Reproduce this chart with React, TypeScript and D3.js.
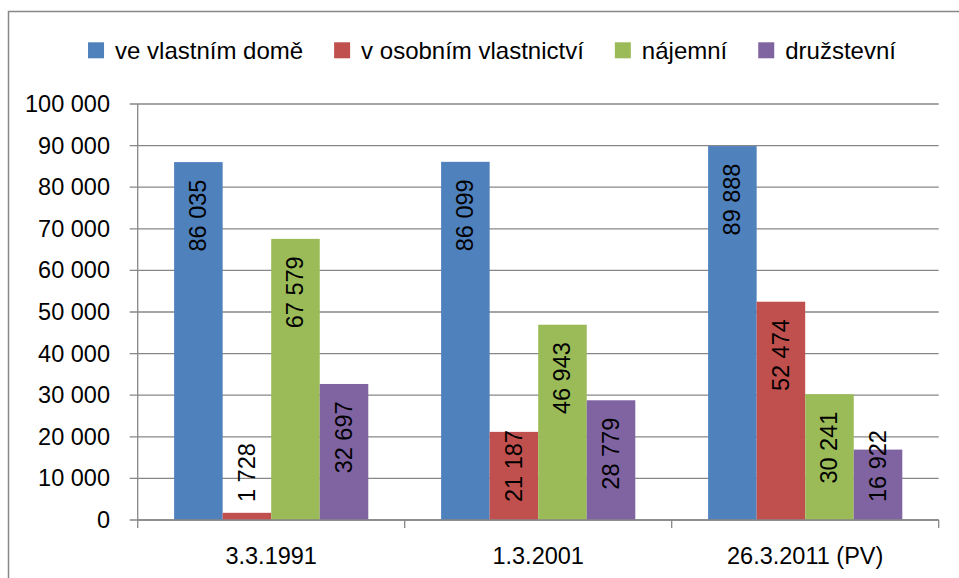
import React from "react";
import * as d3 from "d3";

const categories = ["3.3.1991", "1.3.2001", "26.3.2011 (PV)"];
const seriesNames = ["ve vlastním domě", "v osobním vlastnictví", "nájemní", "družstevní"];
const seriesColors = ["#4F81BD", "#C0504D", "#9BBB59", "#8064A2"];
const vlastniDum = [86035, 86099, 89888];
const osobniVlastnictvi = [1728, 21187, 52474];
const najemni = [67579, 46943, 30241];
const druzstevni = [32697, 28779, 16922];
const yTicks = [0, 10000, 20000, 30000, 40000, 50000, 60000, 70000, 80000, 90000, 100000];

const seriesValues = [vlastniDum, osobniVlastnictvi, najemni, druzstevni];

const W = 959;
const H = 578;
const FONT = "'Liberation Sans', Arial, sans-serif";
const FS = 23.5;
const LFS = 24;

const locale = d3.formatLocale({ thousands: " ", grouping: [3], decimal: ",", currency: ["", ""] });
const fmt = locale.format(",d");

let ctx: CanvasRenderingContext2D | null = null;
function measure(text: string, size: number): number {
  if (!ctx) {
    const c = document.createElement("canvas");
    ctx = c.getContext("2d");
  }
  if (!ctx) return text.length * size * 0.55;
  ctx.font = `${size}px 'Liberation Sans'`;
  return ctx.measureText(text).width;
}

export default function App() {
  const plotLeft = 137.7;
  const plotRight = 938.7;
  const plotTop = 104;
  const plotBottom = 520;

  const x0 = d3.scaleBand<string>().domain(categories).range([plotLeft, plotRight]).paddingInner(0).paddingOuter(0);
  const x1 = d3.scaleBand<string>().domain(seriesNames).range([0, x0.bandwidth()]).paddingInner(0).paddingOuter(0.75);
  const y = d3.scaleLinear().domain([0, 100000]).range([plotBottom, plotTop]);

  const gridColor = "#878787";

  // legend layout
  const sq = 16;
  const gapSqText = 11;
  const gapItems = 31;
  const widths = seriesNames.map((s) => measure(s, LFS));
  const totalW = widths.reduce((a, w) => a + sq + gapSqText + w, 0) + gapItems * (seriesNames.length - 1);
  const legendCenter = 492;
  let lx = legendCenter - totalW / 2;
  const legendItems = seriesNames.map((s, i) => {
    const item = { name: s, color: seriesColors[i], x: lx };
    lx += sq + gapSqText + widths[i] + gapItems;
    return item;
  });
  const legendY = 50.3;

  return (
    <svg
      width={W}
      height={H}
      style={{ position: "absolute", left: 0, top: 0, background: "#fff" }}
      fontFamily={FONT}
    >
      <rect x={0} y={0} width={W} height={H} fill="#fff" />
      {/* outer frame */}
      <path d={`M8.5,${H + 2} V11.5 H${W + 2}`} fill="none" stroke={gridColor} strokeWidth={1.5} />

      {/* legend */}
      {legendItems.map((it) => (
        <g key={it.name}>
          <rect x={it.x} y={legendY - sq / 2} width={sq} height={sq} fill={it.color} />
          <text x={it.x + sq + gapSqText} y={legendY} dominantBaseline="central" fontSize={LFS} fill="#000">
            {it.name}
          </text>
        </g>
      ))}

      {/* gridlines and y ticks */}
      {yTicks.map((t) => (
        <g key={t}>
          <line x1={plotLeft - 8} x2={plotRight} y1={y(t)} y2={y(t)} stroke={gridColor} strokeWidth={1.3} />
          <text x={110} y={y(t)} textAnchor="end" dominantBaseline="central" fontSize={FS} fill="#000">
            {fmt(t)}
          </text>
        </g>
      ))}

      {/* y axis */}
      <line x1={plotLeft} x2={plotLeft} y1={plotTop} y2={plotBottom} stroke={gridColor} strokeWidth={1.3} />

      {/* bars */}
      {categories.map((c, ci) => (
        <g key={c} transform={`translate(${x0(c)},0)`}>
          {seriesNames.map((s, si) => {
            const v = seriesValues[si][ci];
            return (
              <rect
                key={s}
                x={x1(s)}
                y={y(v)}
                width={x1.bandwidth()}
                height={plotBottom - y(v)}
                fill={seriesColors[si]}
              />
            );
          })}
        </g>
      ))}

      {/* x axis */}
      <line x1={plotLeft} x2={plotRight} y1={plotBottom} y2={plotBottom} stroke={gridColor} strokeWidth={1.3} />
      {[...categories.map((c) => x0(c) as number), plotRight].map((xx, i) => (
        <line key={i} x1={xx} x2={xx} y1={plotBottom} y2={plotBottom + 8} stroke={gridColor} strokeWidth={1.3} />
      ))}
      {categories.map((c) => (
        <text
          key={c}
          x={(x0(c) as number) + x0.bandwidth() / 2}
          y={556}
          textAnchor="middle"
          dominantBaseline="central"
          fontSize={FS}
          fill="#000"
        >
          {c}
        </text>
      ))}

      {/* data labels */}
      {categories.map((c, ci) =>
        seriesNames.map((s, si) => {
          const v = seriesValues[si][ci];
          const label = fmt(v);
          const len = measure(label, FS);
          const cx = (x0(c) as number) + (x1(s) as number) + x1.bandwidth() / 2;
          let bottom = y(v) + 17.5 + len;
          if (bottom > plotBottom - 18) bottom = plotBottom - 18;
          return (
            <text
              key={`${c}-${s}`}
              transform={`translate(${cx},${bottom}) rotate(-90)`}
              textAnchor="start"
              dominantBaseline="central"
              fontSize={FS}
              fill="#000"
            >
              {label}
            </text>
          );
        })
      )}
    </svg>
  );
}
